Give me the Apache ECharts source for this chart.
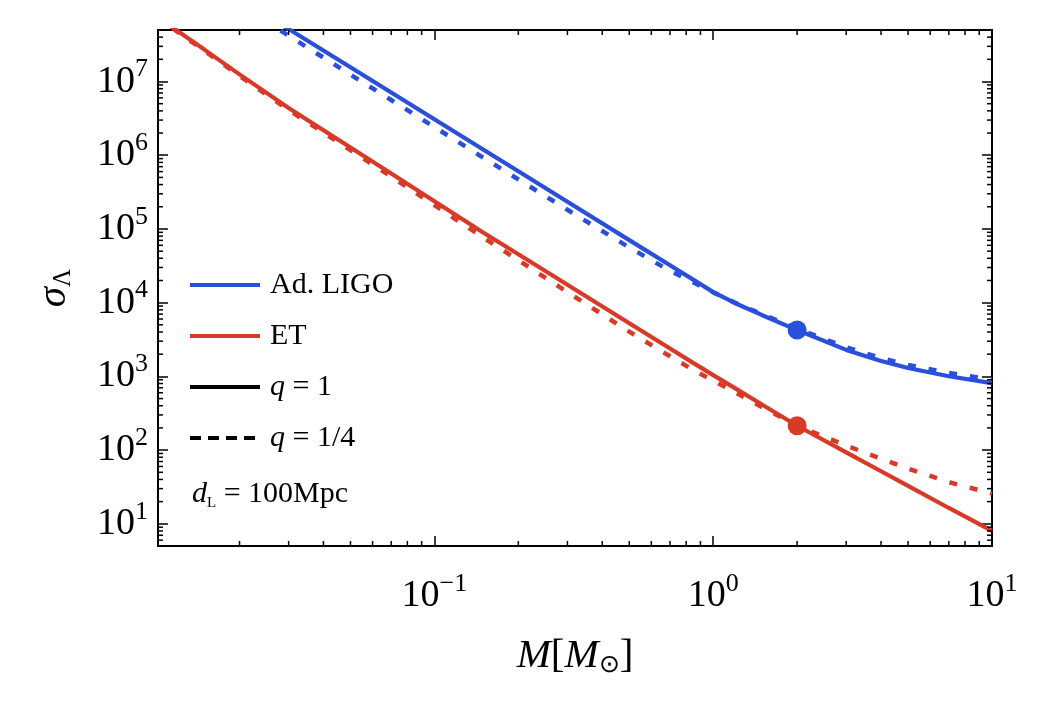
<!DOCTYPE html>
<html><head><meta charset="utf-8">
<script src="https://cdn.jsdelivr.net/npm/echarts@6/dist/echarts.min.js"></script>
<style>html,body{margin:0;padding:0;background:#fff}#c{width:1064px;height:728px}</style>
</head><body><div id="c"></div>
<script>
// ---- data ----
const mass    = [0.01, 0.015, 0.02, 0.03, 0.05, 0.07, 0.1, 0.15, 0.2, 0.3, 0.5, 0.7, 0.85, 1, 1.2, 1.5, 2, 3, 4, 5, 7, 10];
const ligoQ1  = [6.8e8, 2.6e8, 1.33e8, 5.15e7, 1.56e7, 7.08e6, 3.07e6, 1.19e6, 6.05e5, 2.34e5, 7.06e4, 3.21e4, 2.04e4, 1.39e4, 9820, 6760, 4250, 2285, 1618, 1298, 1005, 811];
const ligoQ14 = [5.5e8, 2.13e8, 1.08e8, 4.19e7, 1.24e7, 5.62e6, 2.41e6, 9.23e5, 4.70e5, 1.82e5, 5.61e4, 2.70e4, 1.88e4, 1.38e4, 9930, 6950, 4450, 2480, 1775, 1429, 1114, 900];
const etQ1    = [7.8e7, 2.69e7, 1.25e7, 4.37e6, 1.27e6, 5.64e5, 2.38e5, 8.9e4, 4.53e4, 1.75e4, 5260, 2390, 1514, 1040, 687, 412, 214, 93, 51.6, 32.7, 16.4, 8.0];
const etQ14   = [7.64e7, 2.6e7, 1.19e7, 4.11e6, 1.17e6, 5.13e5, 2.10e5, 7.62e4, 3.76e4, 1.39e4, 4040, 1875, 1216, 877, 605, 381, 214, 115, 76.6, 56, 36.8, 25.7];
const markerMass  = [2, 2];
const markerSigma = [4250, 214];
const xRange = [0.0102, 10];
const yRange = [5, 5e7];
const xMinorTicks = [0.02,0.03,0.04,0.05,0.06,0.07,0.08,0.09, 0.2,0.3,0.4,0.5,0.6,0.7,0.8,0.9, 2,3,4,5,6,7,8,9];
const yMinorTicks = [6,7,8,9, 20,30,40,50,60,70,80,90, 200,300,400,500,600,700,800,900,
  2000,3000,4000,5000,6000,7000,8000,9000, 2e4,3e4,4e4,5e4,6e4,7e4,8e4,9e4,
  2e5,3e5,4e5,5e5,6e5,7e5,8e5,9e5, 2e6,3e6,4e6,5e6,6e6,7e6,8e6,9e6, 2e7,3e7,4e7];
const legendNames = ['Ad. LIGO', 'ET', 'q = 1', 'q = 1/4'];

// ---- chart ----
const FONT = 'Liberation Serif';
const BLUE = '#2A4FDB', RED = '#D93A28';
const zip = (xs, ys) => xs.map((x, i) => [x, ys[i]]);

function powLabel(v) {
  const e = Math.round(Math.log10(v));
  if (Math.abs(v / Math.pow(10, e) - 1) > 1e-6) return '';
  return '{b|10}{s|' + (e < 0 ? '\u2212' + (-e) : e) + '}';
}
const tickRich = {
  b: {fontFamily: FONT, fontSize: 38, lineHeight: 50, color: '#000'},
  s: {fontFamily: FONT, fontSize: 26, lineHeight: 26, verticalAlign: 'top', color: '#000'}
};
const nameRich = {
  i: {fontFamily: FONT, fontSize: 41, fontStyle: 'italic', color: '#000', lineHeight: 44},
  r: {fontFamily: FONT, fontSize: 41, color: '#000', lineHeight: 44},
  sub: {fontFamily: FONT, fontSize: 25, color: '#000', lineHeight: 25, verticalAlign: 'bottom'}
};
const axisLine = {show: true, onZero: false, lineStyle: {color: '#000', width: 2}};
const axisTick = {show: true, inside: true, length: 10, lineStyle: {color: '#000', width: 1.5}};

const minorData = xMinorTicks.map(v => [v, yRange[0], 0]).concat(yMinorTicks.map(v => [xRange[0], v, 1]));

const chart = echarts.init(document.getElementById('c'), null, {renderer: 'canvas'});
chart.setOption({
  animation: false,
  backgroundColor: '#fff',
  grid: {left: 158, right: 72, top: 30, bottom: 182, containLabel: false},
  xAxis: [
    {type: 'log', min: xRange[0], max: xRange[1], position: 'bottom', axisLine, axisTick,
     splitLine: {show: false}, minorTick: {show: false},
     axisLabel: {formatter: powLabel, rich: tickRich, margin: 25, showMinLabel: true, showMaxLabel: true},
     name: '{i|M}{r|[}{i|M}{sub|\u2299}{r|]}', nameLocation: 'middle', nameGap: 88,
     nameTextStyle: {rich: nameRich}},
    {type: 'log', min: xRange[0], max: xRange[1], position: 'top', axisLine, axisTick,
     splitLine: {show: false}, axisLabel: {show: false}}
  ],
  yAxis: [
    {type: 'log', min: yRange[0], max: yRange[1], position: 'left', axisLine, axisTick,
     splitLine: {show: false}, minorTick: {show: false},
     axisLabel: {formatter: powLabel, rich: tickRich, margin: 10},
     name: '{i|\u03C3}{sub|\u039B}', nameLocation: 'middle', nameGap: 82, nameRotate: 90,
     nameTextStyle: {rich: nameRich}},
    {type: 'log', min: yRange[0], max: yRange[1], position: 'right', axisLine, axisTick,
     splitLine: {show: false}, axisLabel: {show: false}}
  ],
  legend: {
    orient: 'vertical', left: 183, top: 263, itemWidth: 70, itemHeight: 14, itemGap: 17,
    selectedMode: false, data: legendNames,
    itemStyle: {opacity: 0, borderWidth: 0},
    lineStyle: {width: 4},
    formatter: n => n.startsWith('q') ? '{i|q}' + n.slice(1) : n,
    textStyle: {fontFamily: FONT, fontSize: 30, color: '#000', lineHeight: 34, padding: [0, 0, 0, 5],
      rich: {i: {fontFamily: FONT, fontSize: 30, fontStyle: 'italic', color: '#000', lineHeight: 34}}}
  },
  graphic: [{
    type: 'text', left: 192, top: 479, z: 100,
    style: {
      text: '{i|d}{sub|L}{r| = 100Mpc}',
      rich: {
        i: {fontFamily: FONT, fontSize: 30, fontStyle: 'italic', fill: '#000', lineHeight: 34},
        r: {fontFamily: FONT, fontSize: 30, fill: '#000', lineHeight: 34},
        sub: {fontFamily: FONT, fontSize: 15, fill: '#000', lineHeight: 15, verticalAlign: 'bottom'}
      }
    }
  }],
  series: [
    {name: 'Ad. LIGO', type: 'line', data: zip(mass, ligoQ1), symbol: 'none', clip: true,
     lineStyle: {color: BLUE, width: 4.2}, itemStyle: {color: BLUE}, z: 3},
    {name: 'ET', type: 'line', data: zip(mass, etQ1), symbol: 'none', clip: true,
     lineStyle: {color: RED, width: 4.2}, itemStyle: {color: RED}, z: 3},
    {name: 'Ad. LIGO q=1/4', type: 'line', data: zip(mass, ligoQ14), symbol: 'none', clip: true,
     lineStyle: {color: BLUE, width: 4.5, type: [8, 13]}, itemStyle: {color: BLUE}, z: 4},
    {name: 'ET q=1/4', type: 'line', data: zip(mass, etQ14), symbol: 'none', clip: true,
     lineStyle: {color: RED, width: 4.5, type: [8, 13]}, itemStyle: {color: RED}, z: 4},
    {name: 'q = 1', type: 'line', data: [], symbol: 'none',
     lineStyle: {color: '#000', width: 4}, itemStyle: {color: '#000'}},
    {name: 'q = 1/4', type: 'line', data: [], symbol: 'none',
     lineStyle: {color: '#000', width: 4, type: [11, 7]}, itemStyle: {color: '#000'}},
    {name: 'markers', type: 'scatter', data: zip(markerMass, markerSigma), symbol: 'circle', symbolSize: 19,
     itemStyle: {color: p => p.dataIndex === 0 ? BLUE : RED, opacity: 1}, z: 6},
    {name: 'minor ticks', type: 'custom', data: minorData, clip: false, silent: true, z: 7,
     renderItem(params, api) {
       const cs = params.coordSys;
       const p = api.coord([api.value(0), api.value(1)]);
       const L = 5, st = {stroke: '#000', lineWidth: 1.5};
       if (api.value(2) === 0) {
         return {type: 'group', children: [
           {type: 'line', shape: {x1: p[0], y1: cs.y + cs.height, x2: p[0], y2: cs.y + cs.height - L}, style: st},
           {type: 'line', shape: {x1: p[0], y1: cs.y, x2: p[0], y2: cs.y + L}, style: st}]};
       }
       return {type: 'group', children: [
         {type: 'line', shape: {x1: cs.x, y1: p[1], x2: cs.x + L, y2: p[1]}, style: st},
         {type: 'line', shape: {x1: cs.x + cs.width, y1: p[1], x2: cs.x + cs.width - L, y2: p[1]}, style: st}]};
     }}
  ]
});
</script></body></html>
